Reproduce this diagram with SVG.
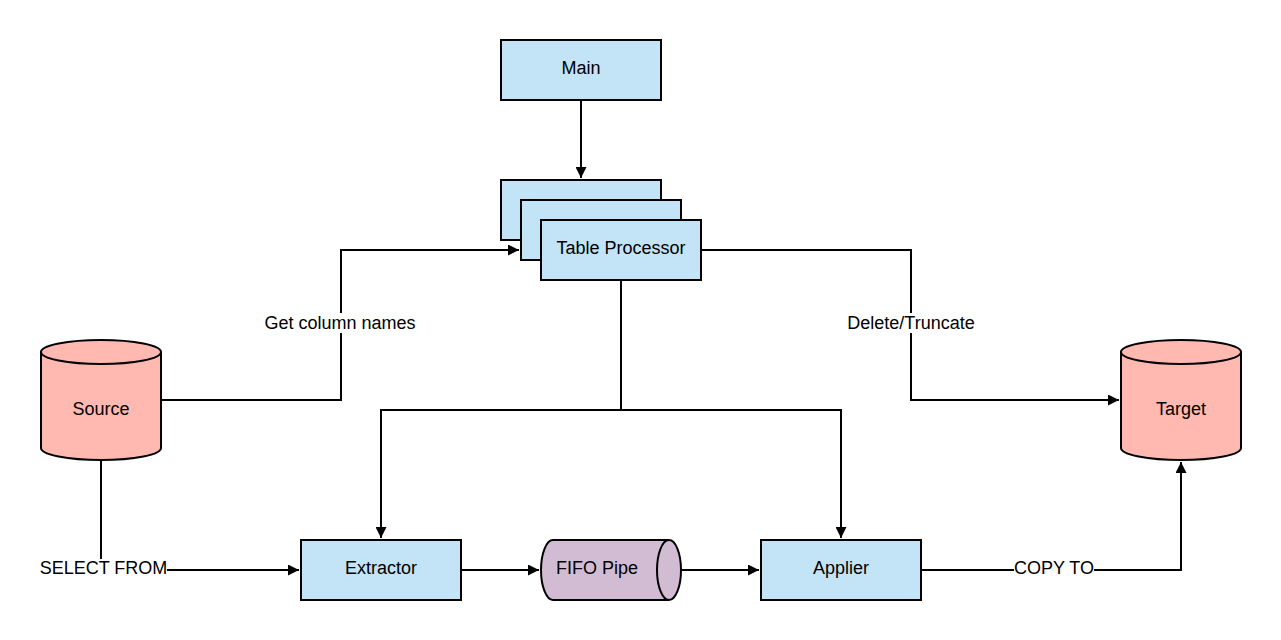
<svg xmlns="http://www.w3.org/2000/svg" width="1281" height="640" viewBox="0 0 1281 640">
<style>
.box{fill:#c3e4f6;stroke:#000;stroke-width:2}
.db{fill:#ffb9b0;stroke:#000;stroke-width:2}
.pipe{fill:#d2bcd4;stroke:#000;stroke-width:2}
.t{font-family:"Liberation Sans",Arial,sans-serif;font-size:18px;fill:#000;text-anchor:middle;dominant-baseline:central}
.c{fill:none;stroke:#000;stroke-width:2}
.lb{fill:#fff}
</style>
<defs>
<marker id="ah" viewBox="0 0 10 10" refX="10" refY="5" markerWidth="12" markerHeight="11" markerUnits="userSpaceOnUse" orient="auto">
<path d="M0,0 L10,5 L0,10 z" fill="#000"/>
</marker>
</defs>
<rect width="1281" height="640" fill="#fff"/>
<g id="connectors">
<path class="c" d="M581,100 V178" marker-end="url(#ah)"/>
<path class="c" d="M161,400 H341 V250 H519" marker-end="url(#ah)"/>
<path class="c" d="M701,250 H911 V400 H1119" marker-end="url(#ah)"/>
<path class="c" d="M621,280 V410 H381 V538" marker-end="url(#ah)"/>
<path class="c" d="M621,410 H841 V538" marker-end="url(#ah)"/>
<path class="c" d="M101,460 V570 H299" marker-end="url(#ah)"/>
<path class="c" d="M461,570 H539" marker-end="url(#ah)"/>
<path class="c" d="M681,570 H759" marker-end="url(#ah)"/>
<path class="c" d="M921,570 H1181 V462" marker-end="url(#ah)"/>
<rect class="lb" x="264" y="313" width="152" height="20"/>
<text class="t" x="340" y="323">Get column names</text>
<rect class="lb" x="847" y="313" width="128" height="20"/>
<text class="t" x="911" y="323">Delete/Truncate</text>
<rect class="lb" x="40" y="559" width="127" height="20"/>
<text class="t" x="103.5" y="568">SELECT FROM</text>
<rect class="lb" x="1014" y="559" width="80" height="20"/>
<text class="t" x="1054" y="568">COPY TO</text>
</g>
<g id="main">
<rect class="box" x="501" y="40" width="160" height="60"/>
<text class="t" x="581" y="68">Main</text>
</g>
<g id="table-processor">
<rect class="box" x="501" y="180" width="160" height="60"/>
<rect class="box" x="521" y="200" width="160" height="60"/>
<rect class="box" x="541" y="220" width="160" height="60"/>
<text class="t" x="621" y="248">Table Processor</text>
</g>
<g id="source">
<path class="db" d="M41,352 A60,12 0 0 1 161,352 V448 A60,12 0 0 1 41,448 Z"/>
<path class="c" d="M41,352 A60,12 0 0 0 161,352"/>
<text class="t" x="101" y="409">Source</text>
</g>
<g id="target">
<path class="db" d="M1121,352 A60,12 0 0 1 1241,352 V448 A60,12 0 0 1 1121,448 Z"/>
<path class="c" d="M1121,352 A60,12 0 0 0 1241,352"/>
<text class="t" x="1181" y="409">Target</text>
</g>
<g id="extractor">
<rect class="box" x="301" y="540" width="160" height="60"/>
<text class="t" x="381" y="568">Extractor</text>
</g>
<g id="fifo-pipe">
<path class="pipe" d="M553,540 H669 A12,30 0 0 1 669,600 H553 A12,30 0 0 1 553,540 Z"/>
<path class="c" d="M669,540 A12,30 0 0 0 669,600"/>
<text class="t" x="597" y="568">FIFO Pipe</text>
</g>
<g id="applier">
<rect class="box" x="761" y="540" width="160" height="60"/>
<text class="t" x="841" y="568">Applier</text>
</g>
</svg>
